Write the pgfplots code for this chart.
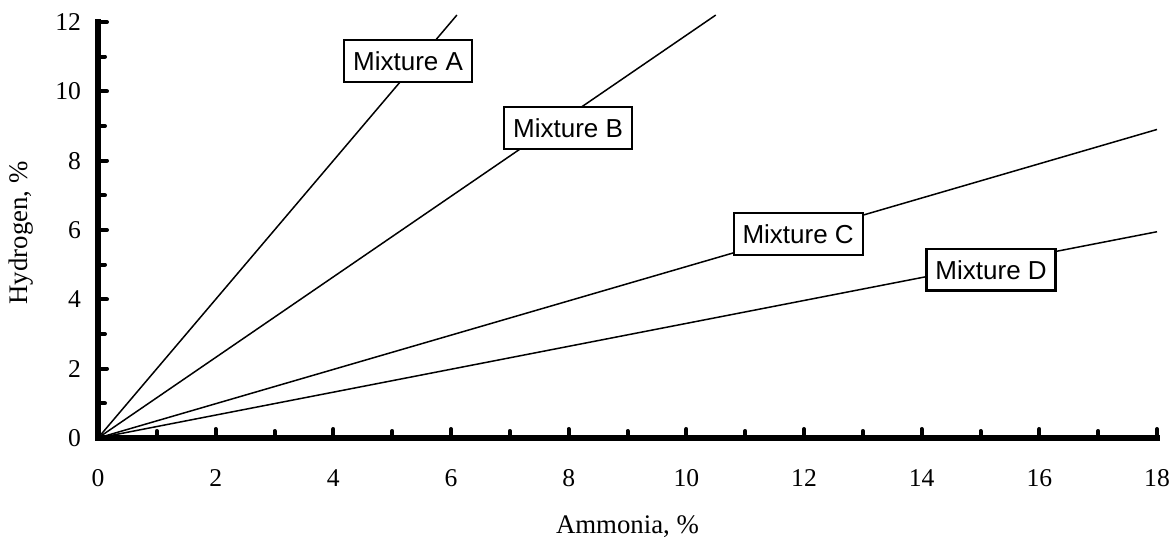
\documentclass[border=0pt]{standalone}
\usepackage{fontspec}
\setmainfont{Liberation Serif}
\newfontfamily\labelfont{Liberation Sans}
\usepackage{pgfplots}
\pgfplotsset{compat=1.18}
\begin{document}
\begin{tikzpicture}
\useasboundingbox (-49pt,-51.5pt) rectangle (537.5pt,219pt);
\begin{axis}[
  at={(0,0)}, anchor=south west,
  width=529.5pt, height=208pt, scale only axis,
  xmin=0, xmax=18, ymin=0, ymax=12,
  axis x line*=bottom, axis y line*=left,
  axis line style={line width=2.6pt, -, line cap=rect},
  xtick={0,2,...,18}, ytick={0,2,...,12},
  minor x tick num=1, minor y tick num=1,
  tick align=inside,
  major tick length=4.5pt, minor tick length=3.5pt,
  every tick/.style={line width=2pt, line cap=round, black},
  tick label style={font=\fontsize{12.8}{15}\selectfont},
  xticklabel style={anchor=center, yshift=-20pt},
  yticklabel style={anchor=east, xshift=-5pt},
  /pgf/number format/assume math mode=true,
  xlabel={Ammonia, \%}, ylabel={Hydrogen, \%},
  label style={font=\fontsize{13.4}{16}\selectfont},
  xlabel style={at={(axis description cs:0.5,-0.212)}, anchor=center},
  ylabel style={at={(axis description cs:-0.0727,0.493)}, anchor=center},
  clip=false,
]
% hydrogen versus ammonia for each mixture
\addplot[black, line width=0.75pt] coordinates {(0,0) (6.1,12.2)};
\addplot[black, line width=0.75pt] coordinates {(0,0) (10.5,12.2)};
\addplot[black, line width=0.75pt] coordinates {(0,0) (18,8.9)};
\addplot[black, line width=0.75pt] coordinates {(0,0) (18,5.95)};
\begin{scope}[every node/.style={draw, fill=white, line width=1pt,
    inner xsep=4.5pt, inner ysep=5.6pt,
    font=\labelfont\fontsize{13}{15}\selectfont}]
\node at (axis cs:5.27,10.87) {Mixture A};
\node at (axis cs:7.99,8.94) {Mixture B};
\node at (axis cs:11.9,5.88) {Mixture C};
\node[line width=1.3pt] at (axis cs:15.18,4.85) {Mixture D};
\end{scope}
\end{axis}
\end{tikzpicture}
\end{document}
